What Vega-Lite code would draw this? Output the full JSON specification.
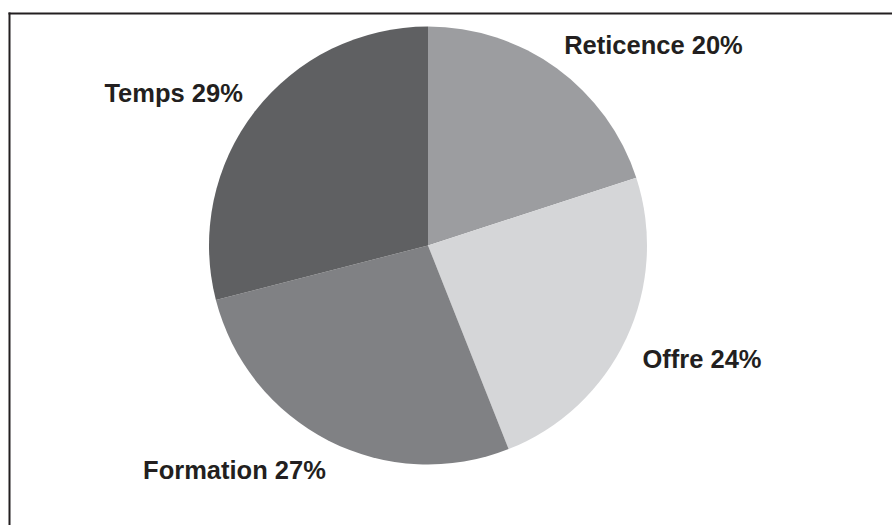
{
  "$schema": "https://vega.github.io/schema/vega-lite/v6.json",
  "autosize": {"type": "none"},
  "padding": {"left": 9, "top": 13, "right": 0, "bottom": 0},
  "width": 883,
  "height": 512,
  "background": "white",
  "view": {"stroke": null, "fill": "white"},
  "config": {
    "font": "Liberation Sans",
    "axis": {"domainColor": "#231f20", "domainWidth": 2, "domainCap": "square", "ticks": false, "labels": false, "grid": false, "title": null}
  },
  "data": {
    "values": [
      {"category": "Reticence", "value": 20, "label": "Reticence 20%", "rank": 1},
      {"category": "Offre", "value": 24, "label": "Offre 24%", "rank": 2},
      {"category": "Formation", "value": 27, "label": "Formation 27%", "rank": 3},
      {"category": "Temps", "value": 29, "label": "Temps 29%", "rank": 4}
    ]
  },
  "layer": [
    {
      "mark": {"type": "point", "opacity": 0},
      "encoding": {
        "x": {"field": "value", "type": "quantitative", "axis": {"orient": "top"}},
        "y": {"field": "rank", "type": "quantitative", "axis": {"orient": "left"}}
      }
    },
    {
      "mark": {"type": "arc", "outerRadius": 219, "xOffset": -22.5, "yOffset": -23.5},
      "encoding": {
        "theta": {"field": "value", "type": "quantitative", "stack": true},
        "order": {"field": "rank", "type": "quantitative"},
        "color": {
          "field": "category",
          "type": "nominal",
          "scale": {"domain": ["Reticence", "Offre", "Formation", "Temps"], "range": ["#9c9da0", "#d5d6d8", "#808184", "#5f6062"]},
          "legend": null
        }
      }
    },
    {
      "mark": {
        "type": "text",
        "radius": 247,
        "xOffset": -22.5,
        "yOffset": -23.5,
        "fontSize": 25.5,
        "fontWeight": "bold",
        "color": "#231f20",
        "baseline": "middle",
        "align": {"expr": "datum.rank <= 2 ? 'left' : 'right'"},
        "dx": {"expr": "datum.rank <= 2 ? -9 : 10"},
        "dy": {"expr": "datum.rank == 2 ? 9 : datum.rank == 3 ? 5 : 0"}
      },
      "encoding": {
        "theta": {"field": "value", "type": "quantitative", "stack": true},
        "order": {"field": "rank", "type": "quantitative"},
        "text": {"field": "label", "type": "nominal"}
      }
    }
  ]
}
